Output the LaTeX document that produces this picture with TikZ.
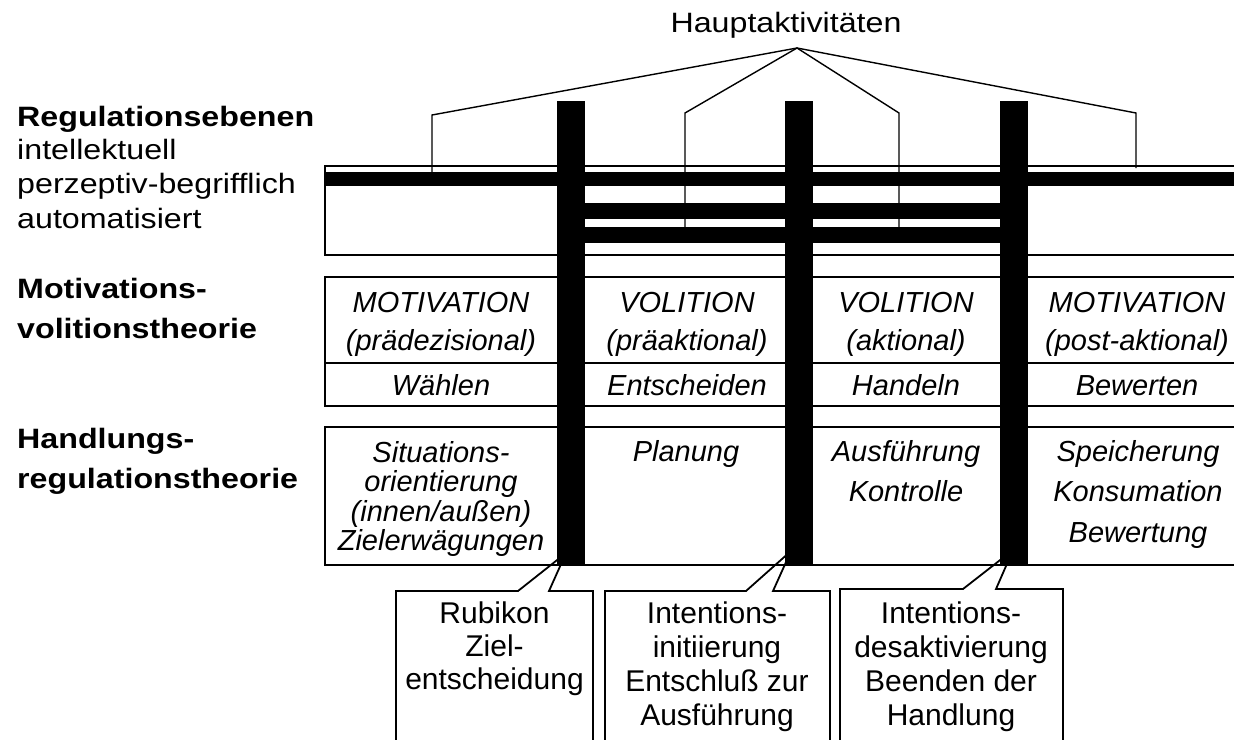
\documentclass[tikz,border=0pt]{standalone}
\usepackage{fontspec}
\setmainfont{Liberation Sans}
\newfontfamily\widesans[FakeStretch=1.15]{Liberation Sans}
\begin{document}
\begin{tikzpicture}[x=1pt,y=-1pt]
\tikzset{
  rule/.style={line width=1.8pt},
  bracket/.style={line width=1.4pt, line join=miter},
  bar/.style={fill=black, draw=none, inner sep=0pt, minimum width=28pt, minimum height=464pt},
  headtxt/.style={font=\widesans\fontsize{28}{32}\selectfont, anchor=base, inner sep=0pt},
  sidetxt/.style={font=\widesans\fontsize{28}{32}\selectfont, anchor=base west, inner sep=0pt},
  sidehead/.style={font=\widesans\bfseries\fontsize{28}{32}\selectfont, anchor=base west, inner sep=0pt},
  celltxt/.style={font=\itshape\fontsize{29}{34}\selectfont, anchor=base, inner sep=0pt},
  calltxt/.style={font=\fontsize{30}{34}\selectfont, anchor=base, inner sep=0pt},
}
\useasboundingbox (0,0) rectangle (1234,739);

% --- regulation levels: frame and the three level bands
\draw[rule] (1240,166) -- (325,166) -- (325,255) -- (1240,255);
\fill (325,172) rectangle (1240,186);
\fill (585,203) rectangle (1000,219);
\fill (585,227) rectangle (1000,243);

% --- motivation/volition rows and action regulation row
\draw[rule] (1240,277) -- (325,277) -- (325,406) -- (1240,406);
\draw[rule] (325,363) -- (1240,363);
\draw[rule] (1240,427) -- (325,427) -- (325,565) -- (1240,565);

% --- callout boxes below the phase transitions
\draw[rule] (396,745) -- (396,591) -- (518,591) -- (566,553) -- (549,591) -- (593,591) -- (593,745);
\draw[rule] (605,745) -- (605,591) -- (746,591) -- (791,551) -- (773,591) -- (830,591) -- (830,745);
\draw[rule] (840,745) -- (840,589) -- (963,589) -- (1013,550) -- (996,589) -- (1063,589) -- (1063,745);

% --- phase transition bars
\node[bar] (bar1) at (571,333) {};
\node[bar] (bar2) at (799,333) {};
\node[bar] (bar3) at (1014,333) {};

% --- main activities with bracket lines down to the level bands
\node[headtxt] (haupt) at (786,32) {Hauptaktivitäten};
\coordinate (apex) at (797,48);
\coordinate (ol) at (432,115);  \coordinate (olf) at (432,172);
\coordinate (il) at (685,113);  \coordinate (ilf) at (685,227);
\coordinate (ir) at (899,113);  \coordinate (irf) at (899,227);
\coordinate (or) at (1136,113); \coordinate (orf) at (1136,168);
\draw[bracket] (olf) -- (ol) -- (apex) -- (or) -- (orf);
\draw[bracket] (ilf) -- (il) -- (apex) -- (ir) -- (irf);

% --- side labels
\node[sidehead] (regh) at (17,126) {Regulationsebenen};
\node[sidetxt] (reg1) at (17,159) {intellektuell};
\node[sidetxt] (reg2) at (17,193) {perzeptiv-begrifflich};
\node[sidetxt] (reg3) at (17,228) {automatisiert};
\node[sidehead] (mvh1) at (17,298) {Motivations-};
\node[sidehead] (mvh2) at (17,338) {volitionstheorie};
\node[sidehead] (hrh1) at (17,448) {Handlungs-};
\node[sidehead] (hrh2) at (17,488) {regulationstheorie};

% --- row 1: phases
\node[celltxt] (p1a) at (441,312) {MOTIVATION};
\node[celltxt] (p1b) at (441,350) {(prädezisional)};
\node[celltxt] (p2a) at (687,312) {VOLITION};
\node[celltxt] (p2b) at (687,350) {(präaktional)};
\node[celltxt] (p3a) at (906,312) {VOLITION};
\node[celltxt] (p3b) at (906,350) {(aktional)};
\node[celltxt] (p4a) at (1137,312) {MOTIVATION};
\node[celltxt] (p4b) at (1137,350) {(post-aktional)};

% --- row 2: activities
\node[celltxt] (a1) at (441,395) {Wählen};
\node[celltxt] (a2) at (687,395) {Entscheiden};
\node[celltxt] (a3) at (906,395) {Handeln};
\node[celltxt] (a4) at (1137,395) {Bewerten};

% --- row 3: action regulation
\node[celltxt] (h1a) at (441,462) {Situations-};
\node[celltxt] (h1b) at (441,491.5) {orientierung};
\node[celltxt] (h1c) at (441,521) {(innen/außen)};
\node[celltxt] (h1d) at (441,550) {Zielerwägungen};
\node[celltxt] (h2a) at (686,461) {Planung};
\node[celltxt] (h3a) at (906,461) {Ausführung};
\node[celltxt] (h3b) at (906,501.5) {Kontrolle};
\node[celltxt] (h4a) at (1138,461) {Speicherung};
\node[celltxt] (h4b) at (1138,501.5) {Konsumation};
\node[celltxt] (h4c) at (1138,542) {Bewertung};

% --- callout texts
\node[calltxt] (k1a) at (494.5,623) {Rubikon};
\node[calltxt] (k1b) at (494.5,656) {Ziel-};
\node[calltxt] (k1c) at (494.5,689) {entscheidung};
\node[calltxt] (k2a) at (717,623) {Intentions-};
\node[calltxt] (k2b) at (717,657) {initiierung};
\node[calltxt] (k2c) at (717,691) {Entschluß zur};
\node[calltxt] (k2d) at (717,725) {Ausführung};
\node[calltxt] (k3a) at (951,623) {Intentions-};
\node[calltxt] (k3b) at (951,657) {desaktivierung};
\node[calltxt] (k3c) at (951,691) {Beenden der};
\node[calltxt] (k3d) at (951,725) {Handlung};
\end{tikzpicture}
\end{document}
